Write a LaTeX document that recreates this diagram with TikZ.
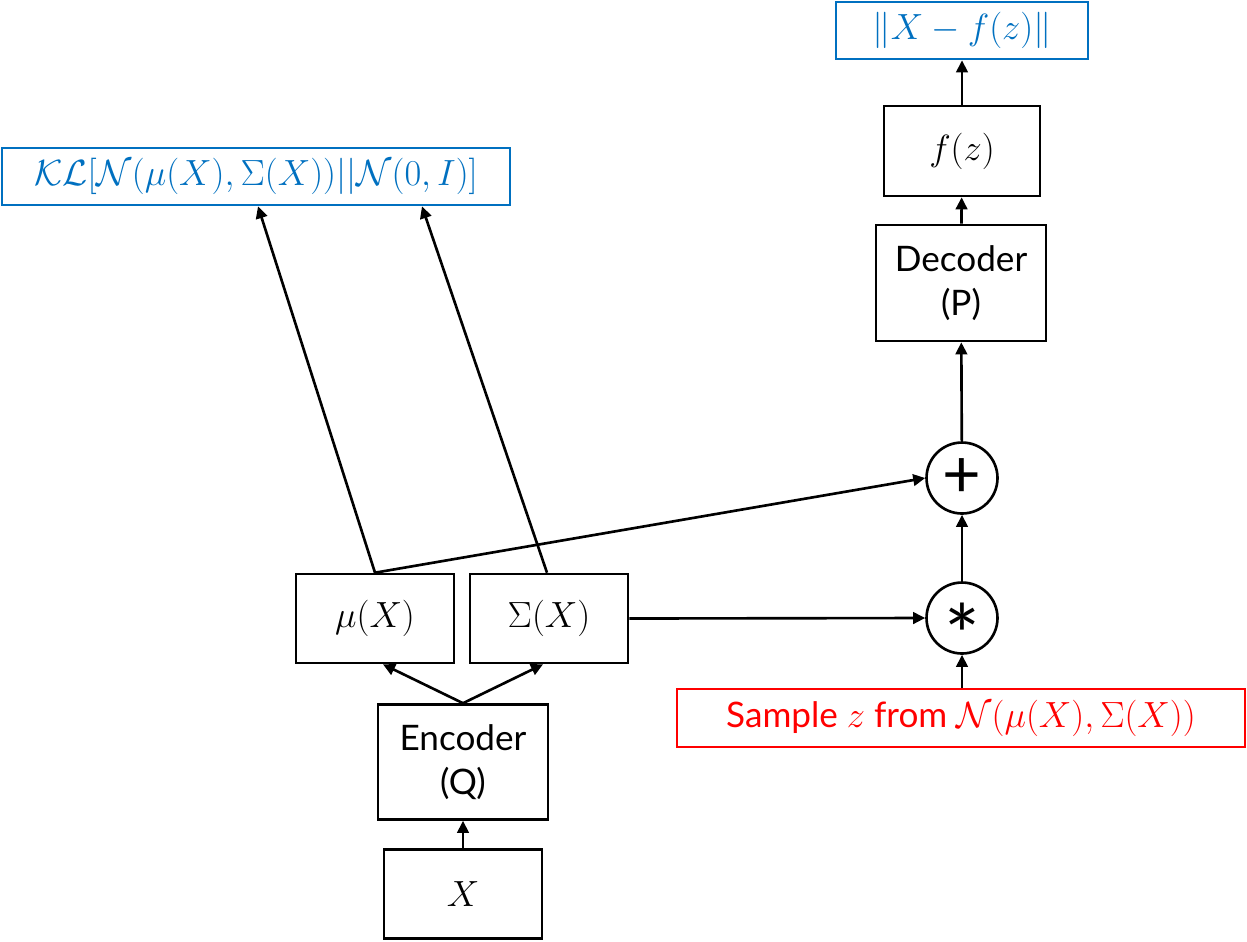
\documentclass[tikz,border=0pt]{standalone}
\usepackage{amsmath}
\usepackage{fontspec}
\setmainfont{Lato}
\usepackage{tikz}
\usetikzlibrary{arrows.meta, positioning}

\definecolor{lossblue}{RGB}{0,112,192}

\begin{document}
\begin{tikzpicture}[
    x=0.02cm, y=-0.02cm,
    box/.style={
        draw, line width=1.5pt, inner sep=0pt,
        minimum width=3.16cm, minimum height=1.78cm,
        font=\fontsize{20}{25}\selectfont, align=center
    },
    wide/.style={
        draw, line width=1.5pt, inner sep=0pt,
        minimum width=3.4cm, minimum height=2.32cm,
        font=\fontsize{20}{25}\selectfont, align=center
    },
    loss/.style={
        draw=lossblue, text=lossblue, line width=1.5pt, inner sep=0pt,
        minimum height=1.14cm,
        font=\fontsize{20}{25}\selectfont
    },
    op/.style={
        draw, circle, line width=1.5pt, inner sep=0pt,
        minimum size=1.42cm
    },
    arr/.style={-{Triangle[length=2.4mm, width=2.3mm]}, line width=1.5pt}
]
    \useasboundingbox (0,0) rectangle (1247,941);

    % Encoder side
    \node[box] (x) at (463, 894) {$X$};
    \node[wide, minimum height=2.3cm] (enc) at (463, 762) {Encoder\\(Q)};
    \node[box] (mu) at (375, 618.5) {$\mu(X)$};
    \node[box] (sigma) at (549, 618.5) {$\Sigma(X)$};

    \draw[arr] (x) -- (enc);
    \draw[arr] (enc.north) -- ([xshift=0.16cm]mu.south);
    \draw[arr] (enc.north) -- ([xshift=-0.12cm]sigma.south);

    % KL term
    \node[loss, minimum width=10.16cm] (kl) at (256, 176.5)
        {$\mathcal{KL}[\mathcal{N}(\mu(X),\Sigma(X))||\mathcal{N}(0,I)]$};
    \draw[arr] (mu.north) -- ([xshift=0.04cm]kl.south);
    \draw[arr] ([xshift=-0.04cm]sigma.north) -- ([xshift=3.32cm]kl.south);

    % Sampling
    \node[draw=red, text=red, line width=1.5pt, inner sep=0pt,
          minimum width=11.36cm, minimum height=1.16cm,
          font=\fontsize{20}{25}\selectfont] (sample) at (961, 718)
        {Sample $z$ from $\mathcal{N}(\mu(X),\Sigma(X))$};
    \node[op, font=\fontsize{48}{48}\selectfont] (star) at (962, 618)
        {\raisebox{-0.58em}[0pt][0pt]{*}};
    \node[op, font=\fontsize{38}{38}\selectfont] (plus) at (962, 478) {+};

    \draw[arr] (star |- sample.north) -- (star);
    \draw[arr] (sigma.east) -- (star.west);
    \draw[arr] (star) -- (plus);
    \draw[arr] (mu.north) -- (plus.west);

    % Decoder side
    \node[wide] (dec) at (961, 283) {Decoder\\(P)};
    \node[box, minimum width=3.12cm, minimum height=1.8cm] (fz) at (962, 151) {$f(z)$};
    \node[loss, minimum width=5.04cm] (recon) at (962, 30.5) {$\|X-f(z)\|$};

    \draw[arr] (plus) -- (dec);
    \draw[arr] (dec) -- (fz);
    \draw[arr] (fz) -- (recon);
\end{tikzpicture}
\end{document}
